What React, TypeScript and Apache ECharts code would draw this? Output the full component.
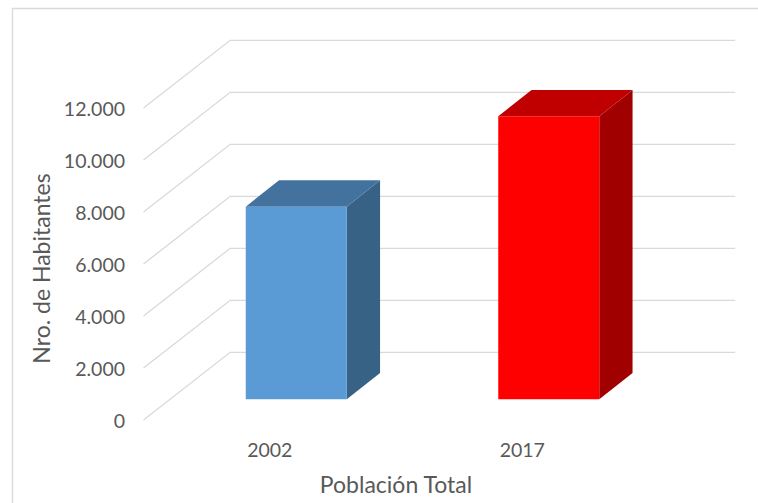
import React, { useEffect, useRef } from "react";
import * as echarts from "echarts";

const categories = ["2002", "2017"];
const values = [7410, 10885];
const yTicks = [0, 2000, 4000, 6000, 8000, 10000, 12000];
const frontColors = ["#5b9bd5", "#ff0000"];
const topColors = ["#44729f", "#c00000"];
const sideColors = ["#386186", "#a00000"];
const yAxisTitle = "Nro. de Habitantes";
const xAxisTitle = "Población Total";

// oblique projection offsets (pixels) relative to the bars' front plane
const FRONT_DX = -26.5;
const FRONT_DY = 20.7;
const BACK_DX = 60.2;
const BACK_DY = -47;
const BAR_DX = 33.3;
const BAR_DY = -26.4;

const fmt = (v: number) => String(v).replace(/\B(?=(\d{3})+(?!\d))/g, ".");

export default function App() {
  const ref = useRef<HTMLDivElement>(null);
  useEffect(() => {
    if (!ref.current) return;
    const chart = echarts.init(ref.current, null, { renderer: "svg" });
    const textColor = "#595959";
    const font = "Lato";
    const option: any = {
      animation: false,
      backgroundColor: "#ffffff",
      graphic: [
        {
          type: "rect",
          shape: { x: 12.5, y: 8.5, width: 800, height: 600 },
          style: { fill: "none", stroke: "#d9d9d9", lineWidth: 1.3 },
          silent: true,
          z: -10,
        },
      ],
      grid: [
        { left: 170, right: 83, top: 87.3, bottom: 103.7 },
        { left: 143.5, right: 109.5, top: 108, bottom: 83 },
      ],
      xAxis: [
        {
          type: "category",
          gridIndex: 0,
          data: categories,
          show: false,
        },
        {
          type: "category",
          gridIndex: 1,
          data: categories,
          axisLine: { show: false },
          axisTick: { show: false },
          axisLabel: { color: textColor, fontFamily: font, fontSize: 19.5, margin: 19 },
          name: xAxisTitle,
          nameLocation: "middle",
          nameGap: 52,
          nameTextStyle: { color: textColor, fontFamily: font, fontSize: 23 },
        },
      ],
      yAxis: [
        {
          type: "value",
          gridIndex: 0,
          min: 0,
          max: 12000,
          interval: 2000,
          show: false,
          splitLine: { show: false },
        },
        {
          type: "value",
          gridIndex: 1,
          min: 0,
          max: 12000,
          interval: 2000,
          axisLine: { show: false },
          axisTick: { show: false },
          splitLine: { show: false },
          axisLabel: {
            color: textColor,
            fontFamily: font,
            fontSize: 19.5,
            margin: 18.5,
            formatter: (v: number) => fmt(v),
          },
          name: yAxisTitle,
          nameLocation: "middle",
          nameGap: 89,
          nameTextStyle: {
            color: textColor,
            fontFamily: font,
            fontSize: 23,
            padding: [0, 9, 0, 0],
          },
        },
      ],
      series: [
        {
          type: "custom",
          xAxisIndex: 0,
          yAxisIndex: 0,
          z: 1,
          silent: true,
          data: yTicks.map((v) => [0, v]),
          encode: { x: 0, y: 1 },
          renderItem: (params: any, api: any) => {
            const cs = params.coordSys;
            const y = api.coord([0, api.value(1)])[1];
            return {
              type: "polyline",
              shape: {
                points: [
                  [cs.x + FRONT_DX, y + FRONT_DY],
                  [cs.x + BACK_DX, y + BACK_DY],
                  [cs.x + cs.width + BACK_DX, y + BACK_DY],
                ],
              },
              style: { fill: "none", stroke: "#d9d9d9", lineWidth: 1.3 },
            };
          },
        },
        {
          type: "custom",
          xAxisIndex: 0,
          yAxisIndex: 0,
          z: 5,
          data: values.map((v, i) => [i, v]),
          encode: { x: 0, y: 1 },
          renderItem: (params: any, api: any) => {
            const idx = api.value(0);
            const v = api.value(1);
            const top = api.coord([idx, v]);
            const base = api.coord([idx, 0]);
            const w = api.size([1, 0])[0] * 0.4;
            const x0 = top[0] - w / 2;
            const x1 = top[0] + w / 2;
            const yt = top[1];
            const yb = base[1];
            return {
              type: "group",
              children: [
                {
                  type: "polygon",
                  shape: {
                    points: [
                      [x1, yt],
                      [x1 + BAR_DX, yt + BAR_DY],
                      [x1 + BAR_DX, yb + BAR_DY],
                      [x1, yb],
                    ],
                  },
                  style: { fill: sideColors[idx] },
                },
                {
                  type: "polygon",
                  shape: {
                    points: [
                      [x0, yt],
                      [x0 + BAR_DX, yt + BAR_DY],
                      [x1 + BAR_DX, yt + BAR_DY],
                      [x1, yt],
                    ],
                  },
                  style: { fill: topColors[idx] },
                },
                {
                  type: "rect",
                  shape: { x: x0, y: yt, width: w, height: yb - yt },
                  style: { fill: frontColors[idx] },
                },
              ],
            };
          },
        },
      ],
    };
    chart.setOption(option);
    return () => chart.dispose();
  }, []);
  return (
    <div
      ref={ref}
      style={{ position: "fixed", left: 0, top: 0, width: 758, height: 503 }}
    />
  );
}
